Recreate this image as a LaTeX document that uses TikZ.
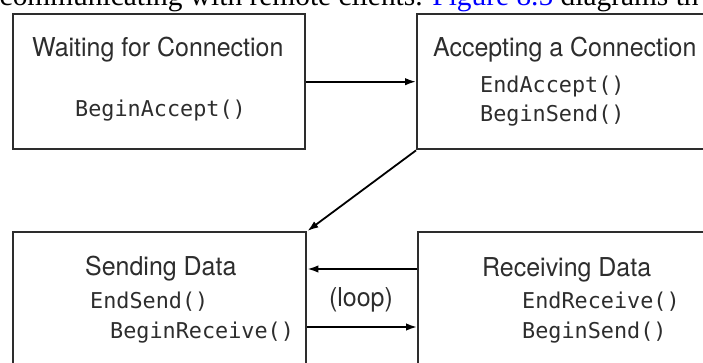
\documentclass[tikz,border=0pt]{standalone}
\usepackage{fontspec}
\setmainfont{Liberation Serif}
\newfontfamily\headfont[FakeStretch=0.96]{TeX Gyre Heros}
\newfontfamily\codefont{DejaVu Sans Mono}
\usetikzlibrary{arrows.meta}
\definecolor{inkgray}{RGB}{45,45,45}
\definecolor{linkblue}{RGB}{0,0,255}

\begin{document}
\begin{tikzpicture}[x=1pt,y=-1pt,line join=miter,
  state/.style={draw=inkgray,line width=2.4pt,anchor=north west,inner sep=0pt},
  title/.style={anchor=base west,inner sep=0pt,text=inkgray,font=\headfont\fontsize{26}{30}\selectfont},
  call/.style={anchor=base west,inner sep=0pt,text=inkgray,font=\codefont\fontsize{21.8}{26}\selectfont},
  flow/.style={line width=1.8pt,draw=black,-{Latex[length=11pt,width=7.5pt]}}]
  \useasboundingbox (0,0) rectangle (703,363);
  \clip (0,0) rectangle (703,363);
  % running text cut off above the figure
  \node[anchor=base west,inner sep=0pt,font=\fontsize{29.4}{34}\selectfont] (caption) at (-0.5,5.5)
    {communicating with remote clients. \textcolor{linkblue}{Figure 8.5} diagrams th};
  % states
  \node[state,minimum width=292pt,minimum height=135pt] (wait) at (12,13) {};
  \node[state,minimum width=320pt,minimum height=135pt] (accept) at (416,13) {};
  \node[state,minimum width=293pt,minimum height=150pt] (send) at (12,231) {};
  \node[state,minimum width=320pt,minimum height=150pt] (recv) at (417,231) {};
  \node[title] (waitT) at (32,57) {Waiting for Connection};
  \node[call] (waitA) at (75,117) {BeginAccept()};
  \node[title] (acceptT) at (433,57) {Accepting a Connection};
  \node[call] (acceptA) at (480,93) {EndAccept()};
  \node[call] (acceptB) at (480,122) {BeginSend()};
  \node[title] (sendT) at (85,275) {Sending Data};
  \node[call] (sendA) at (90,308) {EndSend()};
  \node[call] (sendB) at (110,338) {BeginReceive()};
  \node[title] (recvT) at (482,276) {Receiving Data};
  \node[call] (recvA) at (522,308) {EndReceive()};
  \node[call] (recvB) at (522,338) {BeginSend()};
  % transitions
  \draw[flow] (wait.east) -- (accept.west);
  \draw[flow] (accept.south west) -- (send.north east);
  \draw[flow] ([yshift=-38pt]recv.north west) -- ([yshift=-38pt]send.north east);
  \draw[flow] ([yshift=-96pt]send.north east) -- ([yshift=-96pt]recv.north west);
  \node[title,anchor=base] (loop) at (361,306) {(loop)};
\end{tikzpicture}
\end{document}
